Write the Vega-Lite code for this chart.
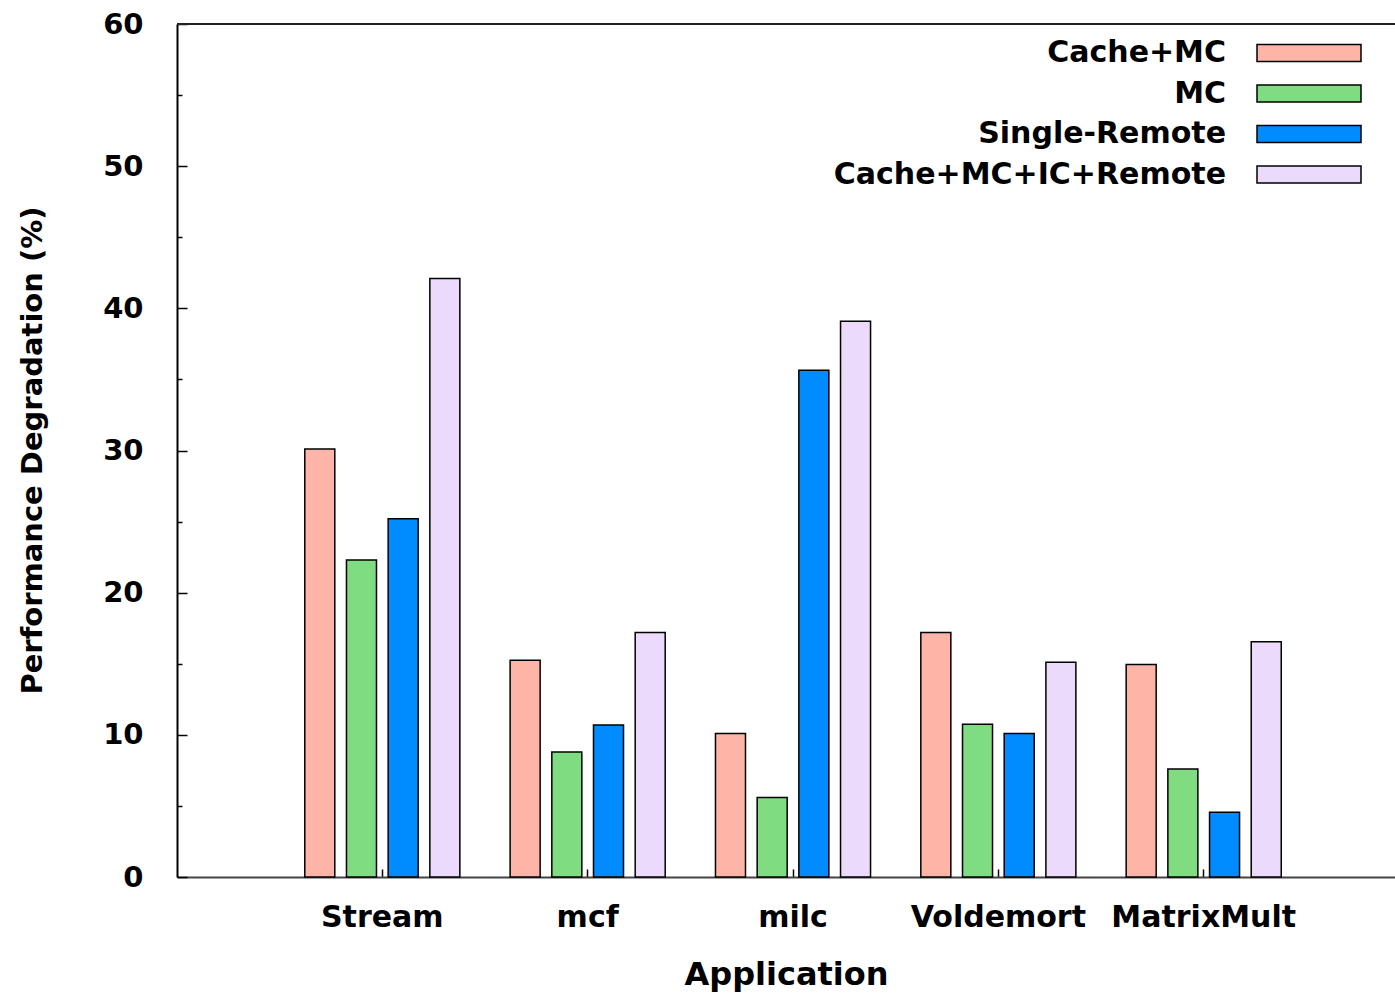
{
  "$schema": "https://vega.github.io/schema/vega-lite/v6.json",
  "width": 1218,
  "height": 853,
  "autosize": {"type": "none"},
  "padding": {"left": 177, "top": 24, "right": 0, "bottom": 117},
  "background": "white",
  "config": {"view": {"stroke": null}, "font": "DejaVu Sans"},
  "data": {
    "values": [
      {"app": "Stream", "series": "Cache+MC", "value": 30.1},
      {"app": "Stream", "series": "MC", "value": 22.3},
      {"app": "Stream", "series": "Single-Remote", "value": 25.2},
      {"app": "Stream", "series": "Cache+MC+IC+Remote", "value": 42.1},
      {"app": "mcf", "series": "Cache+MC", "value": 15.25},
      {"app": "mcf", "series": "MC", "value": 8.8},
      {"app": "mcf", "series": "Single-Remote", "value": 10.7},
      {"app": "mcf", "series": "Cache+MC+IC+Remote", "value": 17.2},
      {"app": "milc", "series": "Cache+MC", "value": 10.1},
      {"app": "milc", "series": "MC", "value": 5.6},
      {"app": "milc", "series": "Single-Remote", "value": 35.65},
      {"app": "milc", "series": "Cache+MC+IC+Remote", "value": 39.1},
      {"app": "Voldemort", "series": "Cache+MC", "value": 17.2},
      {"app": "Voldemort", "series": "MC", "value": 10.75},
      {"app": "Voldemort", "series": "Single-Remote", "value": 10.1},
      {"app": "Voldemort", "series": "Cache+MC+IC+Remote", "value": 15.1},
      {"app": "MatrixMult", "series": "Cache+MC", "value": 14.95},
      {"app": "MatrixMult", "series": "MC", "value": 7.6},
      {"app": "MatrixMult", "series": "Single-Remote", "value": 4.55},
      {"app": "MatrixMult", "series": "Cache+MC+IC+Remote", "value": 16.55}
    ]
  },
  "layer": [
    {
      "mark": {"type": "bar", "stroke": "black", "strokeWidth": 1.5},
      "encoding": {
        "x": {
          "field": "app",
          "type": "nominal",
          "sort": ["Stream", "mcf", "milc", "Voldemort", "MatrixMult"],
          "scale": {"paddingInner": 0.188, "paddingOuter": 0.5597, "align": 0.5305},
          "axis": {
            "title": "Application",
            "titleFont": "DejaVu Sans",
            "titleFontSize": 32,
            "titleFontWeight": "bold",
            "titleColor": "black",
            "titlePadding": 27,
            "labelFont": "DejaVu Sans",
            "labelFontSize": 30,
            "labelFontWeight": "bold",
            "labelColor": "black",
            "labelAngle": 0,
            "labelBaseline": "top",
            "labelPadding": 33,
            "labelLimit": 0,
            "tickSize": -8,
            "tickColor": "black",
            "tickWidth": 1.5,
            "domainColor": "#444",
            "domainWidth": 2
          }
        },
        "xOffset": {
          "field": "series",
          "sort": ["Cache+MC", "MC", "Single-Remote", "Cache+MC+IC+Remote"],
          "scale": {"paddingInner": 0.28, "paddingOuter": 0.14}
        },
        "y": {
          "field": "value",
          "type": "quantitative",
          "scale": {"domain": [0, 60], "nice": false},
          "axis": {
            "title": "Performance Degradation (%)",
            "titleFont": "DejaVu Sans",
            "titleFontSize": 29,
            "titleFontWeight": "bold",
            "titleColor": "black",
            "titleAngle": -90,
            "titleX": -145,
            "titleY": 426,
            "titleAlign": "center",
            "titleBaseline": "middle",
            "values": [0, 5, 10, 15, 20, 25, 30, 35, 40, 45, 50, 55, 60],
            "labelExpr": "datum.value % 10 === 0 ? datum.label : ''",
            "labelFont": "DejaVu Sans",
            "labelFontSize": 29,
            "labelFontWeight": "bold",
            "labelColor": "black",
            "labelPadding": 44,
            "tickSize": {"condition": {"test": "datum.value % 10 === 0", "value": -10}, "value": -5},
            "tickColor": "black",
            "tickWidth": 1.5,
            "domainColor": "black",
            "domainWidth": 2,
            "grid": false
          }
        },
        "fill": {
          "field": "series",
          "type": "nominal",
          "sort": ["Cache+MC", "MC", "Single-Remote", "Cache+MC+IC+Remote"],
          "scale": {
            "domain": ["Cache+MC", "MC", "Single-Remote", "Cache+MC+IC+Remote"],
            "range": ["#ffb4a8", "#80dc80", "#008cff", "#ecdafc"]
          },
          "legend": {
            "orient": "none",
            "legendX": 1117,
            "legendY": 14,
            "title": null,
            "padding": 0,
            "symbolType": "M-4,-0.654H4V0.654H-4Z",
            "symbolSize": 676,
            "symbolStrokeColor": "black",
            "symbolStrokeWidth": 1.5,
            "labelAlign": "right",
            "labelOffset": -98,
            "labelFont": "DejaVu Sans",
            "labelFontSize": 30,
            "labelFontWeight": "bold",
            "labelColor": "black",
            "labelLimit": 0,
            "rowPadding": 10.5
          }
        }
      }
    },
    {
      "mark": {"type": "rule", "color": "#222", "strokeWidth": 2},
      "encoding": {"y": {"datum": 60}}
    }
  ]
}
